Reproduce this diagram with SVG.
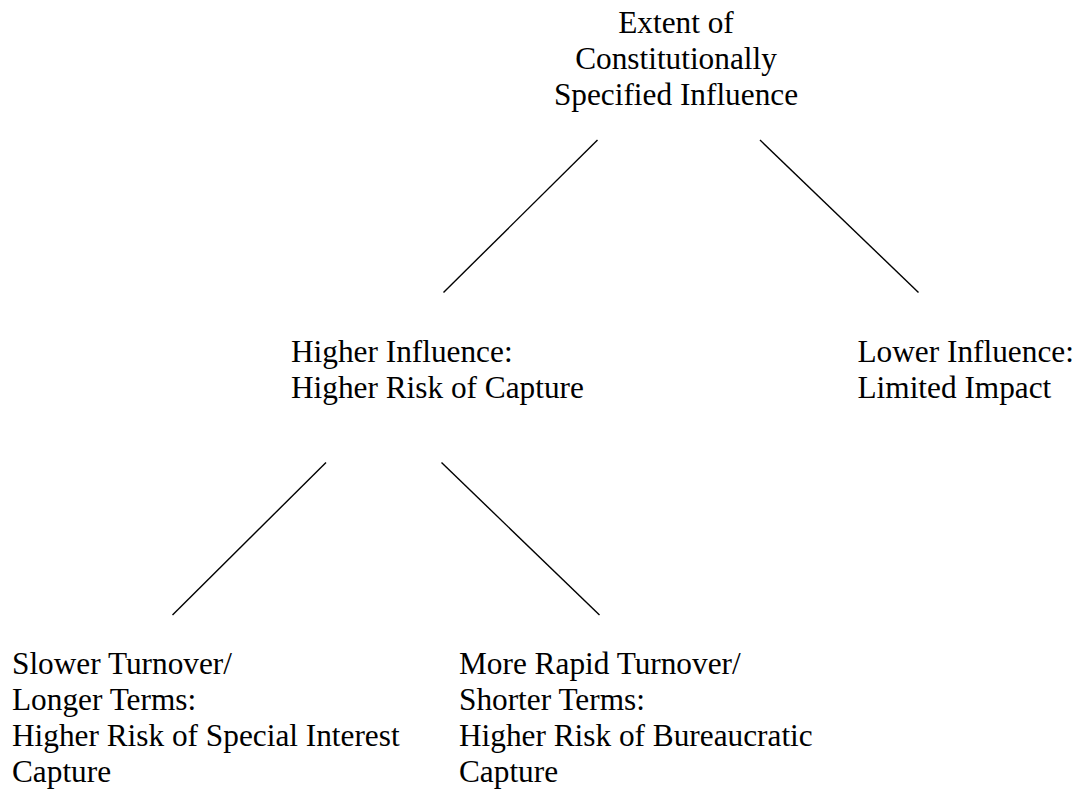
<svg xmlns="http://www.w3.org/2000/svg" width="1078" height="791" viewBox="0 0 1078 791">
<style>
text{font-family:"Liberation Serif","Times New Roman",serif;font-size:31.3px;fill:#000}
.c{text-anchor:middle}
line{stroke:#000;stroke-width:1.4}
</style>
<rect width="1078" height="791" fill="#fff"/>
<g id="connectors">
<line x1="597.5" y1="140" x2="443.5" y2="292.5"/>
<line x1="760" y1="140" x2="918.5" y2="292.5"/>
<line x1="326" y1="462.5" x2="172.5" y2="615"/>
<line x1="441.5" y1="462.5" x2="599.5" y2="615"/>
</g>
<g id="root">
<text class="c" x="676" y="33">Extent of</text>
<text class="c" x="676" y="69">Constitutionally</text>
<text class="c" x="676" y="105">Specified Influence</text>
</g>
<g id="higher">
<text x="291" y="362">Higher Influence:</text>
<text x="291" y="398">Higher Risk of Capture</text>
</g>
<g id="lower">
<text x="857.5" y="362">Lower Influence:</text>
<text x="857.5" y="398">Limited Impact</text>
</g>
<g id="slower">
<text x="12" y="673.5">Slower Turnover/</text>
<text x="12" y="709.5">Longer Terms:</text>
<text x="12" y="746">Higher Risk of Special Interest</text>
<text x="12" y="782">Capture</text>
</g>
<g id="rapid">
<text x="459" y="673.5">More Rapid Turnover/</text>
<text x="459" y="709.5">Shorter Terms:</text>
<text x="459" y="746">Higher Risk of Bureaucratic</text>
<text x="459" y="782">Capture</text>
</g>
</svg>
